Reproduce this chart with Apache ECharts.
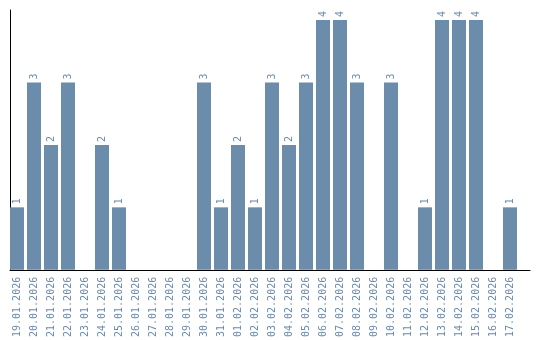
<!DOCTYPE html>
<html><head><meta charset="utf-8">
<script src="https://cdn.jsdelivr.net/npm/echarts@6/dist/echarts.min.js"></script>
<style>html,body{margin:0;padding:0;background:#fff}#c{width:540px;height:340px}</style>
</head><body><div id="c"></div>
<script>
const categories = ["19.01.2026","20.01.2026","21.01.2026","22.01.2026","23.01.2026","24.01.2026","25.01.2026","26.01.2026","27.01.2026","28.01.2026","29.01.2026","30.01.2026","31.01.2026","01.02.2026","02.02.2026","03.02.2026","04.02.2026","05.02.2026","06.02.2026","07.02.2026","08.02.2026","09.02.2026","10.02.2026","11.02.2026","12.02.2026","13.02.2026","14.02.2026","15.02.2026","16.02.2026","17.02.2026"];
const values = [1,3,2,3,0,2,1,0,0,0,0,3,1,2,1,3,2,3,4,4,3,0,3,0,1,4,4,4,0,1];
const barColor = '#6b8cab';
const textColor = '#6a8aad';
const chart = echarts.init(document.getElementById('c'), null, {renderer:'canvas'});
chart.setOption({
  animation:false,
  grid:[
    {left:8.5, width:510, top:20, bottom:70},
    {left:10, right:10, top:10, bottom:70}
  ],
  xAxis:[
    {type:'category', gridIndex:0, data:categories,
     axisLine:{show:false}, axisTick:{show:false},
     axisLabel:{rotate:90, interval:0, color:textColor, fontFamily:'DejaVu Sans Mono', fontSize:10, margin:7}},
    {type:'value', gridIndex:1, min:0, max:1, axisLine:{show:true, lineStyle:{color:'#000', width:1}},
     axisTick:{show:false}, axisLabel:{show:false}, splitLine:{show:false}}
  ],
  yAxis:[
    {type:'value', gridIndex:0, min:0, max:4, axisLine:{show:false}, axisTick:{show:false}, axisLabel:{show:false}, splitLine:{show:false}},
    {type:'value', gridIndex:1, min:0, max:1, axisLine:{show:true, lineStyle:{color:'#000', width:1}},
     axisTick:{show:false}, axisLabel:{show:false}, splitLine:{show:false}}
  ],
  series:[{
    type:'bar', xAxisIndex:0, yAxisIndex:0, data:values, barWidth:14,
    itemStyle:{color:barColor},
    label:{show:true, position:'top', rotate:90, align:'left', verticalAlign:'middle', distance:3,
      color:textColor, fontFamily:'DejaVu Sans Mono', fontSize:10,
      formatter:p=>p.value>0?String(p.value):''}
  }]
});
</script></body></html>
